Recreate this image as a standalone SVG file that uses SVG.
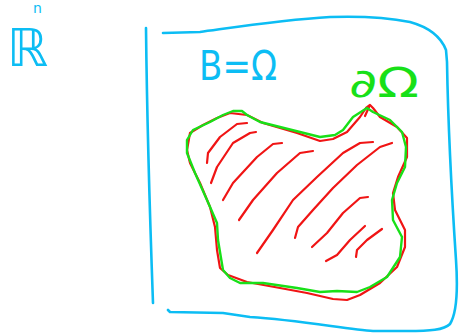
<svg xmlns="http://www.w3.org/2000/svg" width="460" height="335" viewBox="0 0 460 335">
<style>
.ink{fill:none;stroke-linecap:round;stroke-linejoin:round}
.blue{stroke:#0CBDF4;stroke-width:2.6}
.red{stroke:#F01414;stroke-width:2.2}
.green{stroke:#18E018;stroke-width:2.4}
.lbl{font-family:"DejaVu Sans","Liberation Sans",sans-serif}
</style>
<rect width="460" height="335" fill="#fff"/>
<g id="space-label">
<text class="lbl" x="7" y="66" font-size="52" fill="#0CBDF4">ℝ</text>
<text class="lbl" x="33" y="13" font-size="14" fill="#0CBDF4">n</text>
</g>
<g id="box">
<path class="ink blue" d="M146,28 C147,120 150,220 153,303"/>
<path class="ink blue" d="M163,33 L200,32 C230,28 280,20 330,17 C360,16 390,18 410,22 C428,27 441,37 446,50 L447,62 C448,120 452,200 456,260 C458,290 457,313 450,324 C444,330 430,331 407,331 L373,331 C350,330 300,320 250,317 L223,313 L170,312 L168,310"/>
<text class="lbl" x="199" y="80" font-size="41" fill="#0CBDF4" textLength="78" lengthAdjust="spacingAndGlyphs">B=Ω</text>
</g>
<g id="domain">
<path class="ink red" d="M187,150 L190,133 L203,125 L217,118 L230,113 L247,115 L263,123 L280,128 L297,133 L320,141 L333,139 L347,132 L360,117 L366,108 L370,105 L373,108 L380,117 L397,127 L407,138 L407,157 L398,177 L393,193 L395,210 L405,230 L405,247 L397,267 L380,283 L360,295 L347,300 L333,299 L307,293 L280,288 L247,282 L228,275 L220,268 L217,250 L215,227 L210,207 L200,183 L190,163 Z"/>
<path class="ink red" d="M365,116 L369,107"/>
<g id="hatching">
<path class="ink red" d="M207,163 L208,153 L220,137 L237,124 L247,123"/>
<path class="ink red" d="M211,183 L217,167 L233,143 L250,133 L256,132"/>
<path class="ink red" d="M223,200 L233,183 L257,157 L273,144 L282,143"/>
<path class="ink red" d="M239,220 L253,200 L277,173 L300,153 L313,151"/>
<path class="ink red" d="M257,253 L273,230 L293,200 L317,177 L343,153 L360,143 L373,142"/>
<path class="ink red" d="M295,238 L298,227 L313,210 L333,188 L357,165 L380,147 L392,143"/>
<path class="ink red" d="M312,247 L327,233 L343,213 L360,198 L368,197"/>
<path class="ink red" d="M326,261 L337,255 L350,240 L365,226"/>
<path class="ink red" d="M356,257 L357,250 L367,240 L382,229"/>
</g>
</g>
<g id="boundary">
<path class="ink green" d="M187,140 L193,130 L210,122 L223,115 L233,111 L242,111 L247,115 L260,122 L280,127 L300,132 L320,137 L335,135 L343,130 L353,117 L367,108 L373,112 L390,120 L402,132 L406,147 L405,167 L397,183 L392,200 L393,220 L402,237 L400,257 L387,277 L370,287 L357,292 L337,291 L320,292 L297,288 L263,283 L240,283 L230,278 L223,270 L218,240 L217,223 L207,200 L195,173 L187,153 Z"/>
<text class="lbl" x="349" y="97" font-size="40" fill="#18E018" textLength="70" lengthAdjust="spacingAndGlyphs">∂Ω</text>
</g>
</svg>
